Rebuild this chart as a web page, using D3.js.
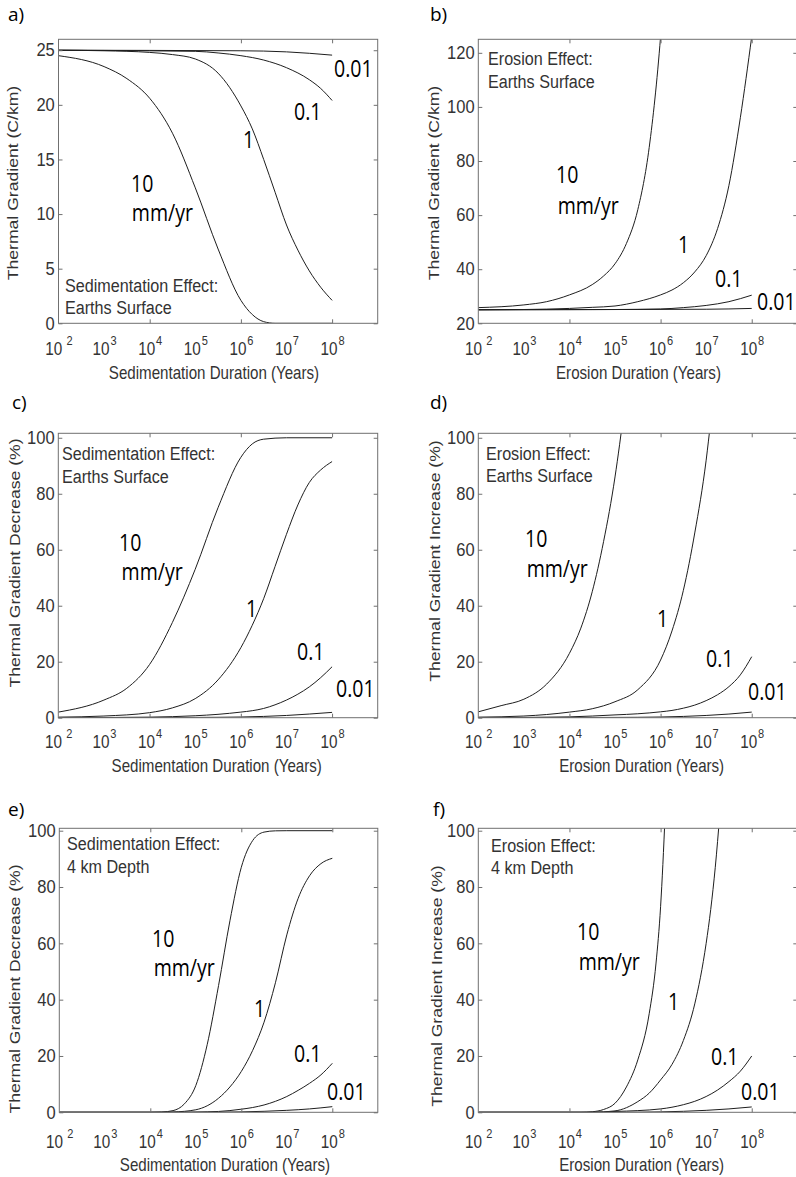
<!DOCTYPE html>
<html>
<head>
<meta charset="utf-8">
<script src="https://cdn.jsdelivr.net/npm/d3@7"></script>
<style>
  body { margin: 0; background: #fff; }
  svg { display: block; }
</style>
</head>
<body>
<div id="chart"></div>
<script>
// tick labels on the duration axis (powers of ten)
const decadeExps = [2, 3, 4, 5, 6, 7, 8];
const tickMarkExps = [4, 6, 8];
const rateNames = ["10", "1", "0.1", "0.01"];

// every series is a list of [log10(years), value]

// a) thermal gradient (C/km), sedimentation, earths surface
const aRate10  = [[2,24.5],[3,23.5],[3.5,22.4],[4,20.6],[4.5,17.4],[5,12.4],[5.5,6.8],[6,2.1],[6.25,0.8],[6.5,0.15],[6.75,0],[8,0]];
const aRate1   = [[2,25],[3,24.95],[4,24.8],[4.5,24.6],[5,24.2],[5.5,22.9],[6,19.9],[6.25,17.8],[6.5,15],[6.75,12],[7,9],[7.25,6.7],[7.5,4.8],[7.75,3.3],[8,2.1]];
const aRate01  = [[2,25],[5,24.9],[5.5,24.75],[6,24.5],[6.5,24.1],[7,23.4],[7.5,22.3],[7.75,21.5],[8,20.4]];
const aRate001 = [[2,25],[6,24.95],[7,24.85],[7.5,24.72],[8,24.55]];

// b) thermal gradient (C/km), erosion, earths surface
const bRate10  = [[2,25.8],[3,26.8],[3.5,28],[4,30.5],[4.5,34.3],[4.75,37.5],[5,42],[5.25,49.5],[5.5,62],[5.75,85],[6,126],[6.05,137]];
const bRate1   = [[2,25],[3,25.1],[4,25.5],[4.5,25.9],[5,26.4],[5.5,28],[6,30.5],[6.25,32.3],[6.5,35],[6.75,39],[7,45],[7.25,55],[7.5,71],[7.75,96],[8,126]];
const bRate01  = [[2,25],[5,25.1],[6,25.3],[6.5,25.8],[7,26.6],[7.5,28],[8,30.4]];
const bRate001 = [[2,25],[7,25.2],[8,25.5]];

// c) gradient decrease (%), sedimentation, earths surface
const cRate10  = [[2,2],[3,6.3],[3.5,10.5],[4,19],[4.5,34],[5,53],[5.5,75],[6,93],[6.25,97.8],[6.5,99.5],[7,100],[8,100]];
const cRate1   = [[2,0.2],[3,0.6],[4,1.8],[4.5,3.5],[5,6.8],[5.5,13.5],[6,25],[6.25,33],[6.5,42.5],[6.75,54],[7,65.5],[7.25,76],[7.5,84],[7.75,88.5],[8,91.5]];
const cRate01  = [[2,0],[4,0.2],[5,0.7],[5.5,1.2],[6,2],[6.25,2.5],[6.5,3.3],[6.75,4.6],[7,6.3],[7.25,8.4],[7.5,11],[7.75,14.3],[8,18.2]];
const cRate001 = [[2,0],[5,0.1],[6,0.25],[7,0.8],[7.5,1.3],[8,1.9]];

// d) gradient increase (%), erosion, earths surface
const dRate10  = [[2,2.1],[2.5,4.3],[3,6.6],[3.5,12],[4,23],[4.25,32],[4.5,45],[4.75,63],[5,86],[5.1,97.5],[5.2,110]];
const dRate1   = [[2,0.2],[3,0.6],[4,2],[4.5,3.2],[5,5.7],[5.5,10],[6,20.6],[6.25,31],[6.5,45.5],[6.75,66],[7,92],[7.1,106]];
const dRate01  = [[2,0],[4,0.3],[5,1],[5.5,1.4],[6,2.1],[6.25,2.6],[6.5,3.4],[6.75,4.5],[7,6.1],[7.25,8.2],[7.5,11.1],[7.75,15.3],[8,21.8]];
const dRate001 = [[2,0],[5,0.1],[6,0.25],[7,0.8],[7.5,1.3],[8,2]];

// e) gradient decrease (%), sedimentation, 4 km depth
const eRate10  = [[2,0],[4,0],[4.25,0.1],[4.5,0.6],[4.75,3],[5,9.5],[5.25,24],[5.5,45],[5.75,68],[6,87],[6.25,96.5],[6.5,99.5],[6.75,99.95],[7,100],[8,100]];
const eRate1   = [[2,0],[4.25,0],[4.5,0.1],[5,0.9],[5.5,5],[5.75,9],[6,14.5],[6.25,22],[6.5,32],[6.75,46],[7,63],[7.25,76],[7.5,84],[7.75,88.3],[8,90.2]];
const eRate01  = [[2,0],[4.5,0],[5,0.1],[5.5,0.3],[6,1.1],[6.25,1.7],[6.5,2.6],[6.75,3.9],[7,5.6],[7.25,7.8],[7.5,10.3],[7.75,13.3],[8,17.4]];
const eRate001 = [[2,0],[5,0],[6,0.15],[7,0.7],[7.5,1.2],[8,2]];

// f) gradient increase (%), erosion, 4 km depth
const fRate10  = [[2,0],[4.25,0],[4.5,0.2],[4.75,1],[5,3.2],[5.25,9],[5.5,18.6],[5.75,35],[5.9,53],[6,73],[6.05,88],[6.1,106]];
const fRate1   = [[2,0],[4.5,0],[5,0.5],[5.5,3.8],[5.75,6.8],[6,11.5],[6.25,17],[6.5,25.5],[6.75,38.5],[7,60],[7.1,72],[7.2,87],[7.3,106]];
const fRate01  = [[2,0],[4.5,0],[5,0.3],[5.5,0.6],[6,1.2],[6.25,1.8],[6.5,2.7],[6.75,3.9],[7,5.6],[7.25,7.9],[7.5,10.9],[7.75,14.6],[8,20]];
const fRate001 = [[2,0],[5,0],[6,0.15],[7,0.7],[7.5,1.2],[8,1.9]];

const W = 796, H = 1177;
const SX = 0.85;                 // the figure is squeezed sideways
const axisCol = "#707070";
const textCol = "#333";
const sansFont = "'Liberation Sans', Arial, Helvetica, sans-serif";
const labelFont = "'Open Sans', 'Noto Sans', sans-serif";

const panels = [
  { name: "a", left: 58.5, right: 377.7, top: 39.3, bottom: 323.3, yDomain: [0, 26], yTicks: [0,5,10,15,20,25],
    series: [aRate10, aRate1, aRate01, aRate001], letter: [8, 21], labOff: 31.7,
    yTitle: "Thermal Gradient (C/km)", yTitlePos: [17.5, 183],
    xTitle: "Sedimentation Duration (Years)", xTitlePos: [214, 378.5],
    note: ["Sedimentation Effect:", "Earths Surface"], notePos: [65, 292, 313.5],
    labels: [[131,192],[243,148],[294,120],[334,77]], mmyr: [132, 221] },
  { name: "b", left: 478.3, right: 797.3, top: 39.3, bottom: 323.3, yDomain: [20, 125], yTicks: [20,40,60,80,100,120],
    series: [bRate10, bRate1, bRate01, bRate001], letter: [430, 21], labOff: 31.7,
    yTitle: "Thermal Gradient (C/km)", yTitlePos: [439, 183],
    xTitle: "Erosion Duration (Years)", xTitlePos: [638.5, 378.5],
    note: ["Erosion Effect:", "Earths Surface"], notePos: [488, 65, 88],
    labels: [[556,183],[678,253],[715,287],[757,310]], mmyr: [558, 214] },
  { name: "c", left: 58.3, right: 377.7, top: 433.3, bottom: 717.7, yDomain: [0, 101.6], yTicks: [0,20,40,60,80,100],
    series: [cRate10, cRate1, cRate01, cRate001], letter: [12, 409], labOff: 30.3,
    yTitle: "Thermal Gradient Decrease (%)", yTitlePos: [20, 563],
    xTitle: "Sedimentation Duration (Years)", xTitlePos: [216.7, 772],
    note: ["Sedimentation Effect:", "Earths Surface"], notePos: [62, 460, 483],
    labels: [[119,551],[246,617],[297,660],[336,697]], mmyr: [122, 580] },
  { name: "d", left: 478.3, right: 797.3, top: 433.3, bottom: 717.7, yDomain: [0, 101.6], yTicks: [0,20,40,60,80,100],
    series: [dRate10, dRate1, dRate01, dRate001], letter: [430, 409], labOff: 30.3,
    yTitle: "Thermal Gradient Increase (%)", yTitlePos: [440, 561],
    xTitle: "Erosion Duration (Years)", xTitlePos: [641.7, 772],
    note: ["Erosion Effect:", "Earths Surface"], notePos: [486, 460, 482],
    labels: [[525,547],[657,627],[706,667],[748,700]], mmyr: [527, 577] },
  { name: "e", left: 59.3, right: 377.8, top: 828.3, bottom: 1112.3, yDomain: [0, 100.85], yTicks: [0,20,40,60,80,100],
    series: [eRate10, eRate1, eRate01, eRate001], letter: [8, 816], labOff: 35.7,
    yTitle: "Thermal Gradient Decrease (%)", yTitlePos: [20, 989],
    xTitle: "Sedimentation Duration (Years)", xTitlePos: [225, 1171],
    note: ["Sedimentation Effect:", "4 km Depth"], notePos: [67, 850, 872.5],
    labels: [[152,947],[254,1017],[294,1062],[327,1100]], mmyr: [154, 976] },
  { name: "f", left: 478.3, right: 797.3, top: 828.3, bottom: 1112.3, yDomain: [0, 100.85], yTicks: [0,20,40,60,80,100],
    series: [fRate10, fRate1, fRate01, fRate001], letter: [433, 816], labOff: 35.7,
    yTitle: "Thermal Gradient Increase (%)", yTitlePos: [441.5, 986],
    xTitle: "Erosion Duration (Years)", xTitlePos: [641.7, 1171],
    note: ["Erosion Effect:", "4 km Depth"], notePos: [491, 851.5, 873.5],
    labels: [[577,940],[668,1010],[711,1065],[741,1100]], mmyr: [579, 970] }
];

const svg = d3.select("#chart").append("svg")
  .attr("width", W)
  .attr("height", H);

// squeezed text placed by its anchor point
function addText(parent, s, x, y, size, font, fill, anchor, sx) {
  return parent.append("text")
    .attr("transform", `translate(${x},${y}) scale(${sx || SX},1)`)
    .attr("font-family", font)
    .attr("font-size", size)
    .attr("fill", fill)
    .attr("text-anchor", anchor || "start")
    .text(s);
}

function styleTicks(sel) {
  sel.select(".domain").remove();
  sel.selectAll(".tick line").attr("stroke", axisCol);
}

function drawPanel(p) {
  const x = d3.scaleLog().domain([1e2, 1e9]).range([p.left, p.right]);
  const y = d3.scaleLinear().domain(p.yDomain).range([p.bottom, p.top]);
  const g = svg.append("g").attr("class", "panel-" + p.name);

  const clipId = "clip-" + p.name;
  g.append("clipPath").attr("id", clipId)
    .append("rect")
      .attr("x", p.left).attr("y", p.top)
      .attr("width", p.right - p.left).attr("height", p.bottom - p.top);

  const line = d3.line()
    .x(d => x(Math.pow(10, d[0])))
    .y(d => y(d[1]))
    .curve(d3.curveMonotoneX);

  g.append("g").attr("clip-path", `url(#${clipId})`)
    .selectAll("path")
    .data(p.series)
    .join("path")
      .attr("d", line)
      .attr("fill", "none")
      .attr("stroke", "#1e1e1e")
      .attr("stroke-width", 1);

  // axes box
  g.append("rect")
    .attr("x", p.left).attr("y", p.top)
    .attr("width", p.right - p.left).attr("height", p.bottom - p.top)
    .attr("fill", "none")
    .attr("stroke", axisCol)
    .attr("stroke-width", 1);

  // inward ticks on all four sides
  const yl = g.append("g").attr("transform", `translate(${p.left},0)`)
    .call(d3.axisLeft(y).tickValues(p.yTicks).tickSizeInner(-4).tickSizeOuter(0).tickPadding(4));
  styleTicks(yl);
  yl.selectAll(".tick text")
    .attr("transform", "scale(0.92,1)")
    .attr("font-family", sansFont)
    .attr("font-size", 18)
    .attr("fill", textCol);

  const yr = g.append("g").attr("transform", `translate(${p.right},0)`)
    .call(d3.axisRight(y).tickValues(p.yTicks).tickSizeInner(-4).tickSizeOuter(0).tickFormat(""));
  styleTicks(yr);

  const tickVals = tickMarkExps.map(e => Math.pow(10, e));
  const xb = g.append("g").attr("transform", `translate(0,${p.bottom})`)
    .call(d3.axisBottom(x).tickValues(tickVals).tickSizeInner(-4).tickSizeOuter(0).tickFormat(""));
  styleTicks(xb);
  const xt = g.append("g").attr("transform", `translate(0,${p.top})`)
    .call(d3.axisTop(x).tickValues(tickVals).tickSizeInner(-4).tickSizeOuter(0).tickFormat(""));
  styleTicks(xt);

  // decade labels, 10 with a raised exponent
  const xl = g.append("g").attr("transform", `translate(0,${p.bottom})`)
    .call(d3.axisBottom(x).tickValues(decadeExps.map(e => Math.pow(10, e))).tickSize(0).tickFormat(""));
  xl.select(".domain").remove();
  xl.selectAll(".tick line").remove();
  xl.selectAll(".tick text")
    .attr("y", p.labOff)
    .attr("dy", null)
    .attr("transform", `scale(${SX},1)`)
    .attr("font-family", sansFont)
    .attr("font-size", 18)
    .attr("fill", textCol)
    .attr("text-anchor", "middle")
    .each(function(d) {
      const ex = Math.round(Math.log10(d));
      const t = d3.select(this);
      t.append("tspan").text("10");
      t.append("tspan")
        .attr("dx", ex === 2 ? 5 : 1)
        .attr("dy", -10)
        .attr("font-size", 13)
        .text(ex);
    });

  // axis titles
  addText(g, p.xTitle, p.xTitlePos[0], p.xTitlePos[1], 17.8, sansFont, textCol, "middle");
  g.append("text")
    .attr("transform", `translate(${p.yTitlePos[0]},${p.yTitlePos[1]}) rotate(-90) scale(1,0.82)`)
    .attr("font-family", sansFont)
    .attr("font-size", 17.6)
    .attr("fill", textCol)
    .attr("text-anchor", "middle")
    .text(p.yTitle);

  // annotation
  addText(g, p.note[0], p.notePos[0], p.notePos[1], 19, sansFont, textCol);
  addText(g, p.note[1], p.notePos[0], p.notePos[2], 19, sansFont, textCol);

  // rate labels; the fastest rate carries the unit on a second line
  const fast = addText(g, "", p.labels[0][0], p.labels[0][1], 23, labelFont, "#000");
  fast.append("tspan").attr("x", 0).text(rateNames[0]);
  fast.append("tspan")
    .attr("x", p.mmyr[0] - p.labels[0][0])
    .attr("dy", p.mmyr[1] - p.labels[0][1])
    .text("mm/yr");
  p.labels.slice(1).forEach((pos, i) => addText(g, rateNames[i + 1], pos[0], pos[1], 23, labelFont, "#000"));

  // panel letter
  addText(g, p.name + ")", p.letter[0], p.letter[1], 19, labelFont, "#000", "start", 1);
}

panels.forEach(drawPanel);
</script>
</body>
</html>
